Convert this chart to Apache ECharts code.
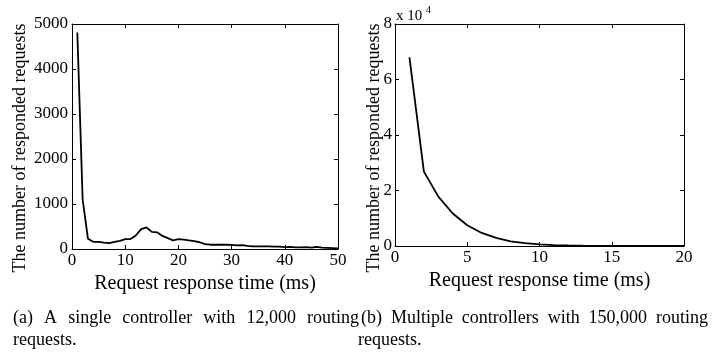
<!DOCTYPE html>
<html>
<head>
<meta charset="utf-8">
<script src="https://cdn.jsdelivr.net/npm/echarts@6/dist/echarts.min.js"></script>
<style>
  html, body { margin: 0; padding: 0; background: #fff; }
  #chart { width: 718px; height: 356px; }
</style>
</head>
<body>
<div id="chart"></div>
<script>
// (a) single controller, x = 1..50 ms
const timeA = [1,2,3,4,5,6,7,8,9,10,11,12,13,14,15,16,17,18,19,20,21,22,23,24,25,
  26,27,28,29,30,31,32,33,34,35,36,37,38,39,40,41,42,43,44,45,46,47,48,49,50];
const countA = [4810,1100,230,160,160,140,130,160,180,220,220,300,440,480,380,370,290,240,190,220,
  210,190,175,150,110,95,95,95,95,90,80,85,70,60,60,60,60,55,55,40,
  45,35,35,40,30,45,30,25,20,15];

// (b) multiple controllers, x = 1..20 ms
const timeB = [1,2,3,4,5,6,7,8,9,10,11,12,13,14,15,16,17,18,19,20];
const countB = [68000,26800,17800,11700,7500,4700,2900,1700,1000,600,350,200,120,70,40,25,15,10,5,3];

const captionA = '(a) A single controller with 12,000 routing';
const captionB = '(b) Multiple controllers with 150,000 routing';
const yTitle = 'The number of responded requests';
const xTitle = 'Request response time (ms)';

const FONT = '"Liberation Serif", "Times New Roman", serif';
const black = '#000';

const chart = echarts.init(document.getElementById('chart'));

const tick = { show: true, inside: true, length: 4, lineStyle: { color: black } };
const line = { show: true, onZero: false, lineStyle: { color: black, width: 1 } };

function xAxes(gridIndex, max, interval) {
  return [
    {
      gridIndex, type: 'value', min: 0, max, interval, position: 'bottom',
      name: xTitle, nameLocation: 'middle', nameGap: 19,
      nameTextStyle: { fontFamily: FONT, fontSize: 20, color: black },
      axisLine: line, axisTick: tick,
      axisLabel: { fontFamily: FONT, fontSize: 17, color: black, margin: 3 },
      splitLine: { show: false },
    },
    {
      gridIndex, type: 'value', min: 0, max, interval, position: 'top',
      axisLine: line, axisTick: tick,
      axisLabel: { show: false },
      splitLine: { show: false },
    },
  ];
}

function yAxes(gridIndex, max, interval, fmt, margin) {
  return [
    {
      gridIndex, type: 'value', min: 0, max, interval, position: 'left',
      axisLine: line, axisTick: tick,
      axisLabel: { fontFamily: FONT, fontSize: 17, color: black, margin, formatter: fmt },
      splitLine: { show: false },
    },
    {
      gridIndex, type: 'value', min: 0, max, interval, position: 'right',
      axisLine: line, axisTick: tick,
      axisLabel: { show: false },
      splitLine: { show: false },
    },
  ];
}

// justified caption words, measured with canvas
const ctx = document.createElement('canvas').getContext('2d');
const capFont = '18px "Liberation Serif"';
ctx.font = capFont;
function justify(text, x0, x1, y) {
  const words = text.split(' ');
  const widths = words.map(w => ctx.measureText(w).width);
  const total = widths.reduce((a, b) => a + b, 0);
  const gap = (x1 - x0 - total) / (words.length - 1);
  let x = x0;
  return words.map((w, i) => {
    const el = { type: 'text', left: x, top: y, style: { text: w, font: capFont, fill: black } };
    x += widths[i] + gap;
    return el;
  });
}

function yTitleText(cx, cy) {
  return {
    type: 'text', x: cx, y: cy, rotation: Math.PI / 2,
    style: { text: yTitle, font: '18px "Liberation Serif"', fill: black, align: 'center', verticalAlign: 'middle' },
  };
}

chart.setOption({
  animation: false,
  backgroundColor: '#fff',
  grid: [
    { left: 72, top: 24, width: 266, height: 225 },
    { left: 395, top: 24, width: 289, height: 222 },
  ],
  xAxis: [...xAxes(0, 50, 10), ...xAxes(1, 20, 5)],
  yAxis: [
    ...yAxes(0, 5000, 1000, v => v, 4),
    ...yAxes(1, 80000, 20000, v => v / 10000, 3),
  ],
  series: [
    {
      type: 'line', xAxisIndex: 0, yAxisIndex: 0, showSymbol: false,
      lineStyle: { color: black, width: 1.8 },
      data: timeA.map((t, i) => [t, countA[i]]),
    },
    {
      type: 'line', xAxisIndex: 2, yAxisIndex: 2, showSymbol: false,
      lineStyle: { color: black, width: 1.8 },
      data: timeB.map((t, i) => [t, countB[i]]),
    },
  ],
  graphic: [
    yTitleText(20, 148),
    yTitleText(374, 148),
    { type: 'text', left: 396, top: 9, style: { text: 'x 10', font: '15px "Liberation Serif"', fill: black } },
    { type: 'text', left: 426, top: 5, style: { text: '4', font: '10px "Liberation Serif"', fill: black } },
    ...justify(captionA, 13, 359, 309),
    ...justify(captionB, 361, 708, 309),
    { type: 'text', left: 13, top: 331, style: { text: 'requests.', font: capFont, fill: black } },
    { type: 'text', left: 358, top: 331, style: { text: 'requests.', font: capFont, fill: black } },
  ],
});
</script>
</body>
</html>
